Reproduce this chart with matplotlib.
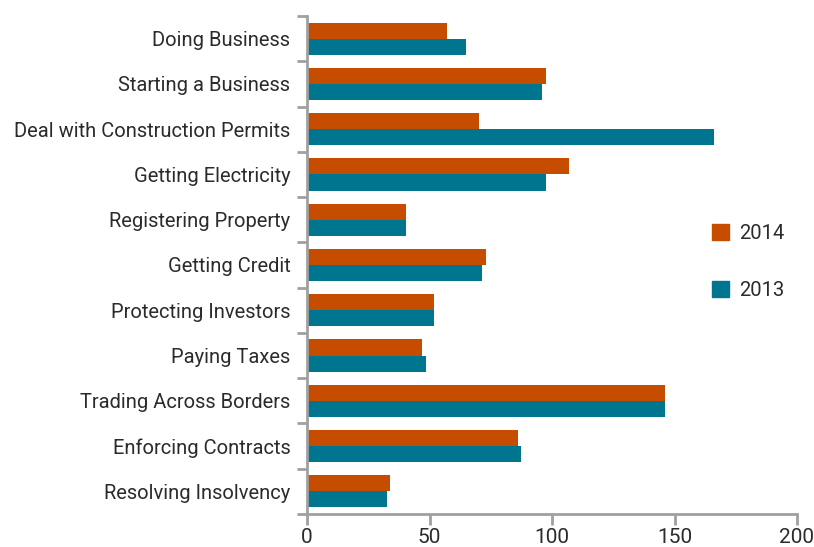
import matplotlib.pyplot as plt
import numpy as np
from matplotlib.patches import Patch

categories = ['Doing Business', 'Starting a Business', 'Deal with Construction Permits',
              'Getting Electricity', 'Registering Property', 'Getting Credit',
              'Protecting Investors', 'Paying Taxes', 'Trading Across Borders',
              'Enforcing Contracts', 'Resolving Insolvency']
values_2014 = [57, 97.5, 70, 107, 40.5, 73, 52, 47, 146, 86, 34]
values_2013 = [65, 96, 166, 97.5, 40.5, 71.5, 52, 48.5, 146, 87.5, 32.5]

orange = '#C64C00'
teal = '#00758F'
grey = '#A0A0A0'
text_col = '#2B2B2B'

plt.rcParams['font.family'] = ['Roboto', 'DejaVu Sans']

fig = plt.figure(figsize=(8.14, 5.47), dpi=100)
ax = fig.add_axes([307 / 814, 1 - 514 / 547, 490 / 814, 498 / 547])

y = np.arange(len(categories))
h = 0.355
ax.barh(y - h / 2, values_2014, height=h, color=orange, label='2014')
ax.barh(y + h / 2, values_2013, height=h, color=teal, label='2013')

ax.set_ylim(len(categories) - 0.5, -0.5)
ax.set_xlim(0, 200)
ax.set_xticks([0, 50, 100, 150, 200])
ax.set_yticks(y)
ax.set_yticklabels(categories)
ax.set_yticks(np.arange(-0.5, len(categories), 1), minor=True)
ax.tick_params(axis='y', which='major', length=0, pad=12, labelsize=14.5, labelcolor=text_col)
ax.tick_params(axis='y', which='minor', length=7, width=2, color=grey)
ax.tick_params(axis='x', length=8, width=2, color=grey, labelsize=15, labelcolor=text_col, pad=2)

for s in ['top', 'right']:
    ax.spines[s].set_visible(False)
for s in ['left', 'bottom']:
    ax.spines[s].set_color(grey)
    ax.spines[s].set_linewidth(2)

handles = [Patch(color=orange, label='2014'), Patch(color=teal, label='2013')]
ax.legend(handles=handles, loc='center left', bbox_to_anchor=(0.79, 0.506), frameon=False,
          fontsize=14.5, labelspacing=1.85, handlelength=0.85, handleheight=0.85,
          handletextpad=0.5, labelcolor=text_col)

fig.savefig('out.png', dpi=100)
